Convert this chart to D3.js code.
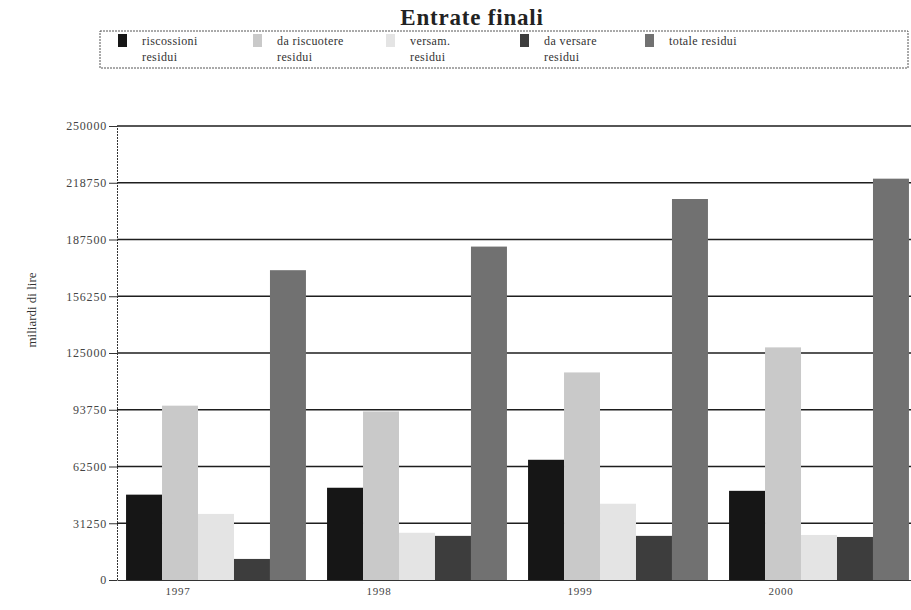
<!DOCTYPE html>
<html>
<head>
<meta charset="utf-8">
<script src="https://cdn.jsdelivr.net/npm/d3@7"></script>
<style>
  body { margin: 0; background: #fff; }
  svg text { font-family: "Liberation Serif", "DejaVu Serif", serif; }
</style>
</head>
<body>
<div id="chart"></div>
<script>
/****************************** data ******************************/
var years = ["1997", "1998", "1999", "2000"];
var seriesNames = ["riscossioni residui", "da riscuotere residui", "versam. residui", "da versare residui", "totale residui"];
var legendLines = [["riscossioni", "residui"], ["da riscuotere", "residui"], ["versam.", "residui"], ["da versare", "residui"], ["totale residui"]];
var riscossioni = [47000, 50800, 66200, 49100];
var daRiscuotere = [96000, 92800, 114300, 128100];
var versam = [36400, 26000, 42000, 24800];
var daVersare = [11600, 24300, 24300, 23700];
var totale = [170600, 183600, 209800, 221000];
var tickValues = [0, 31250, 62500, 93750, 125000, 156250, 187500, 218750, 250000];

var seriesValues = [riscossioni, daRiscuotere, versam, daVersare, totale];
var colors = ["#161616", "#c9c9c9", "#e4e4e4", "#3d3d3d", "#717171"];

/****************************** chart ******************************/
var width = 911, height = 610;

var svg = d3.select("#chart").append("svg")
	.attr("width", width)
	.attr("height", height)
	.style("background-color", "white");

var x0 = d3.scaleBand()
	.domain(years)
	.range([117, 918])
	.paddingInner(0.105)
	.paddingOuter(0.045);

var x1 = d3.scaleBand()
	.domain(d3.range(seriesNames.length))
	.range([0, x0.bandwidth()]);

var y = d3.scaleLinear()
	.domain([0, 250000])
	.range([580, 126]);

// gridlines
svg.append("g")
	.selectAll("line")
	.data(tickValues.slice(1))
	.enter().append("line")
	.attr("x1", 117).attr("x2", width)
	.attr("y1", function(d) { return y(d); })
	.attr("y2", function(d) { return y(d); })
	.style("stroke", "#1e1e1e")
	.style("stroke-width", 1.3);

// bars
var rows = [];
years.forEach(function(yr, i) {
	seriesValues.forEach(function(vals, s) {
		rows.push({ year: yr, s: s, value: vals[i] });
	});
});

svg.append("g")
	.selectAll("rect")
	.data(rows)
	.enter().append("rect")
	.attr("x", function(d) { return x0(d.year) + x1(d.s); })
	.attr("width", x1.bandwidth())
	.attr("y", function(d) { return y(d.value); })
	.attr("height", function(d) { return y(0) - y(d.value); })
	.style("fill", function(d) { return colors[d.s]; });

// y axis
var yAxis = svg.append("g")
	.attr("transform", "translate(117,0)")
	.call(d3.axisLeft(y).tickValues(tickValues).tickSize(8).tickPadding(2).tickFormat(d3.format("d")));
yAxis.select(".domain").style("stroke", "#333").style("stroke-dasharray", "2,1");
yAxis.selectAll(".tick line").style("stroke", "#333");
yAxis.selectAll("text").style("font-size", "12px").style("letter-spacing", "0.8px").style("fill", "#444");

// x axis, year labels sit under the second bar of each group
var xAxis = svg.append("g")
	.attr("transform", "translate(0,580)")
	.call(d3.axisBottom(x0).tickSize(0).tickPadding(7));
xAxis.select(".domain").style("stroke", "#333");
xAxis.selectAll(".tick")
	.attr("transform", function(d) { return "translate(" + (x0(d) + x1(1) + x1.bandwidth() / 2 - 2) + ",0)"; });
xAxis.selectAll("text").style("font-size", "11px").style("letter-spacing", "0.8px").style("fill", "#444");

// y title
svg.append("text")
	.attr("transform", "translate(36,310) rotate(-90)")
	.style("text-anchor", "middle")
	.style("font-size", "13px")
	.style("fill", "#333")
	.text("miliardi di lire");

// title
svg.append("text")
	.attr("x", 472).attr("y", 25)
	.style("text-anchor", "middle")
	.style("font-size", "23px")
	.style("font-weight", "bold")
	.style("letter-spacing", "0.8px")
	.style("fill", "#222")
	.text("Entrate finali");

// legend
svg.append("rect")
	.attr("x", 100).attr("y", 31)
	.attr("width", 808).attr("height", 37)
	.style("fill", "none")
	.style("stroke", "#555")
	.style("stroke-dasharray", "2,1");

var legendX = [118, 253, 386, 520, 645];
var leg = svg.append("g")
	.selectAll("g")
	.data(legendLines)
	.enter().append("g")
	.attr("transform", function(d, i) { return "translate(" + legendX[i] + ",34)"; });

leg.append("rect")
	.attr("width", 9).attr("height", 13)
	.style("fill", function(d, i) { return colors[i]; });

leg.append("text")
	.attr("x", 24)
	.attr("y", 11)
	.style("font-size", "12px")
	.style("letter-spacing", "0.4px")
	.style("fill", "#333")
	.selectAll("tspan")
	.data(function(d) { return d; })
	.enter().append("tspan")
	.attr("x", 24)
	.attr("dy", function(d, i) { return i ? 16 : 0; })
	.text(function(d) { return d; });
</script>
</body>
</html>
